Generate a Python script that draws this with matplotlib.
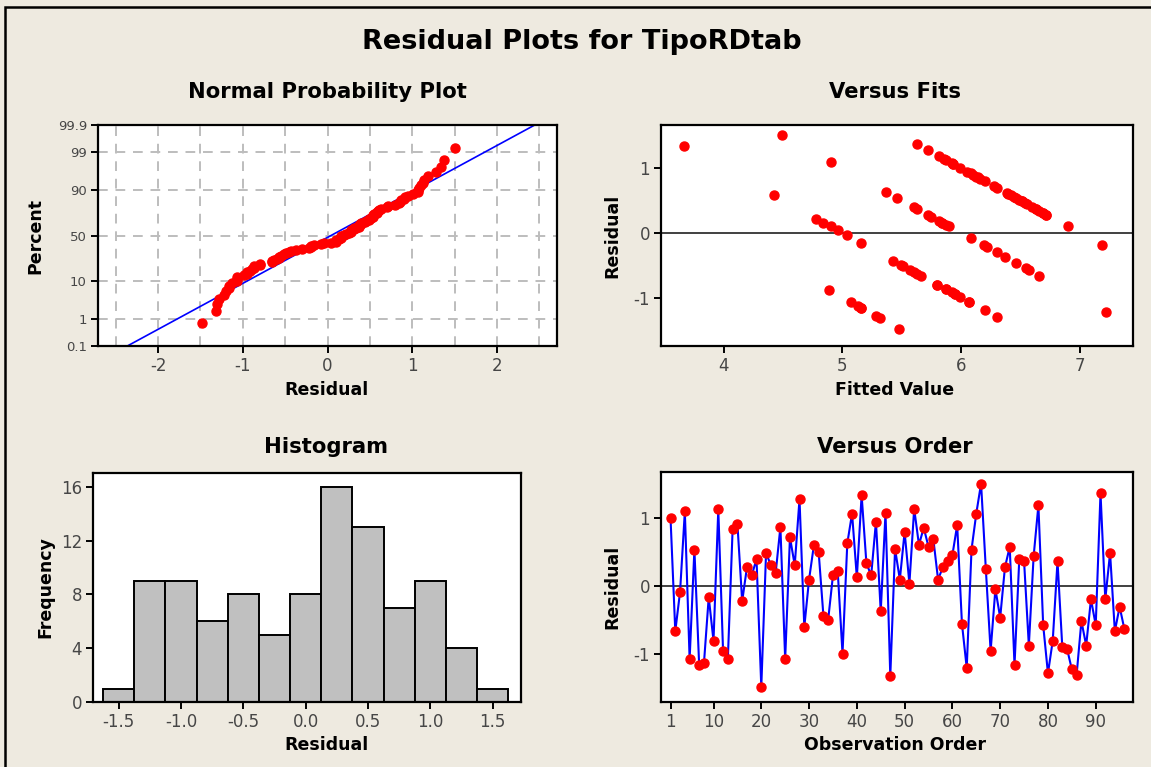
import matplotlib.pyplot as plt
import numpy as np
from statistics import NormalDist
from matplotlib.patches import Rectangle

# residuals in observation order
order_resid = [1.01, -0.66, -0.08, 1.10, -1.07, 0.54, -1.16, -1.13, -0.16, -0.80,
               1.13, -0.95, -1.07, 0.84, 0.92, -0.22, 0.28, 0.16, 0.40, -1.48,
               0.49, 0.31, 0.19, 0.87, -1.07, 0.72, 0.31, 1.28, -0.60, 0.10,
               0.60, 0.51, -0.43, -0.49, 0.16, 0.22, -0.99, 0.63, 1.07, 0.13,
               1.34, 0.34, 0.16, 0.95, -0.37, 1.08, -1.32, 0.55, 0.10, 0.80,
               0.04, 1.14, 0.61, 0.86, 0.58, 0.70, 0.10, 0.28, 0.37, 0.46,
               0.90, -0.55, -1.20, 0.54, 1.07, 1.51, 0.25, -0.95, -0.04, -0.46,
               0.28, 0.58, -1.16, 0.40, 0.37, -0.87, 0.44, 1.19, -0.57, -1.28,
               -0.80, 0.37, -0.89, -0.92, -1.22, -1.30, -0.51, -0.87, -0.19, -0.57,
               1.37, -0.19, 0.49, -0.66, -0.30, -0.63]

# fitted values, same observation order
fitted = [5.99, 6.66, 6.08, 4.90, 6.07, 6.46, 5.16, 5.13, 5.16, 5.80,
          5.87, 5.95, 5.07, 6.16, 6.08, 6.22, 6.72, 5.84, 5.60, 5.48,
          6.51, 6.69, 5.81, 6.13, 6.07, 6.28, 6.69, 5.72, 5.60, 4.90,
          6.40, 6.49, 5.43, 5.49, 5.84, 4.78, 5.99, 5.37, 5.93, 5.87,
          3.66, 6.66, 4.84, 6.05, 6.37, 5.92, 5.32, 6.45, 5.90, 6.20,
          4.96, 5.86, 6.39, 6.14, 4.42, 6.30, 6.90, 5.72, 6.63, 6.54,
          6.10, 6.55, 6.20, 5.46, 5.93, 4.49, 5.75, 5.95, 5.04, 6.46,
          6.72, 6.42, 5.16, 6.60, 5.63, 5.87, 6.56, 5.81, 5.57, 5.28,
          5.80, 6.63, 4.89, 5.92, 7.22, 6.30, 5.51, 5.87, 7.19, 6.57,
          5.63, 6.19, 6.51, 5.66, 6.30, 5.63]

hist_centers = [-1.5, -1.25, -1.0, -0.75, -0.5, -0.25, 0.0, 0.25, 0.5, 0.75, 1.0, 1.25, 1.5]
hist_counts = [1, 9, 9, 6, 8, 5, 8, 16, 13, 7, 9, 4, 1]

pct_ticks = [0.1, 1, 10, 50, 90, 99, 99.9]
pct_labels = ["0.1", "1", "10", "50", "90", "99", "99.9"]

W, H = 1151, 767
bg = "#EEEAE0"
dot = "#FF0000"
tick_col = "#464646"

plt.rcParams["font.family"] = ["DejaVu Sans"]
plt.rcParams["axes.unicode_minus"] = False

fig = plt.figure(figsize=(W / 100, H / 100), dpi=100, facecolor=bg)


def box(x0, y0, x1, y1):
    return [x0 / W, 1 - y1 / H, (x1 - x0) / W, (y1 - y0) / H]


def style(ax, size=12):
    for s in ax.spines.values():
        s.set_linewidth(1.6)
        s.set_color("black")
    ax.tick_params(direction="out", length=5, width=1.4, color="black",
                   labelcolor=tick_col, labelsize=size, pad=3)


def ftext(x, y, s, size, **kw):
    fig.text(x / W, 1 - y / H, s, fontsize=size, ha="center", va="center", **kw)


# frame of the whole graph window
fig.patches.append(Rectangle((5 / W, -0.1), 1.2, 1 - 7 / H + 0.1, transform=fig.transFigure,
                             fill=False, edgecolor="black", linewidth=1.8))

ftext(582, 42, "Residual Plots for TipoRDtab", 19.5, fontweight="bold")

# --- Normal probability plot
nd = NormalDist()
res = np.array(order_resid)
n = len(res)
srt = np.sort(res)
z_pts = [nd.inv_cdf((i + 1 - 0.3) / (n + 0.4)) for i in range(n)]
mu, sd = res.mean(), res.std(ddof=1)
z_lo, z_hi = nd.inv_cdf(0.001), nd.inv_cdf(0.999)

ax1 = fig.add_axes(box(98, 125, 557, 346))
style(ax1)
for gx in np.arange(-2.5, 2.51, 0.5):
    ax1.axvline(gx, color="#BDBDBD", linestyle=(0, (5, 4)), linewidth=1.4, zorder=0)
for p in pct_ticks[1:-1]:
    ax1.axhline(nd.inv_cdf(p / 100), color="#BDBDBD", linestyle=(0, (5, 4)), linewidth=1.4, zorder=0)
ax1.plot([mu + sd * z_lo, mu + sd * z_hi], [z_lo, z_hi], color="#0000FF", linewidth=1.2, zorder=2)
ax1.plot(srt, z_pts, "o", color=dot, markersize=6.5, zorder=3)
ax1.set_xlim(-2.71, 2.71)
ax1.set_ylim(z_lo, z_hi)
ax1.set_xticks([-2, -1, 0, 1, 2])
ax1.set_yticks([nd.inv_cdf(p / 100) for p in pct_ticks])
ax1.set_yticklabels(pct_labels)
ax1.tick_params(axis="y", labelsize=9.5)
ftext(327, 92, "Normal Probability Plot", 15.2, fontweight="bold")
ftext(327, 390, "Residual", 12.5, fontweight="bold")
ftext(35, 236, "Percent", 12.5, fontweight="bold", rotation=90)

# --- Versus fits
ax2 = fig.add_axes(box(661, 125, 1133, 346))
style(ax2)
ax2.axhline(0, color="#404040", linewidth=1.4, zorder=1)
ax2.plot(fitted, order_resid, "o", color=dot, markersize=6.5, zorder=3)
ax2.set_xlim(3.47, 7.45)
ax2.set_ylim(-1.75, 1.67)
ax2.set_xticks([4, 5, 6, 7])
ax2.set_yticks([-1, 0, 1])
ftext(895, 92, "Versus Fits", 15.2, fontweight="bold")
ftext(895, 390, "Fitted Value", 12.5, fontweight="bold")
ftext(612, 236, "Residual", 12.5, fontweight="bold", rotation=90)

# --- Histogram
ax3 = fig.add_axes(box(93, 473, 521, 702))
style(ax3)
ax3.bar(hist_centers, hist_counts, width=0.25, color="#C0C0C0", edgecolor="black", linewidth=1.4)
ax3.set_xlim(-1.705, 1.727)
ax3.set_ylim(0, 17.04)
ax3.set_xticks([-1.5, -1.0, -0.5, 0.0, 0.5, 1.0, 1.5])
ax3.set_xticklabels(["-1.5", "-1.0", "-0.5", "0.0", "0.5", "1.0", "1.5"])
ax3.set_yticks([0, 4, 8, 12, 16])
ftext(326, 447, "Histogram", 15.2, fontweight="bold")
ftext(326, 745, "Residual", 12.5, fontweight="bold")
ftext(45, 587, "Frequency", 12.5, fontweight="bold", rotation=90)

# --- Versus order
obs = np.arange(1, n + 1)
ax4 = fig.add_axes(box(661, 472, 1133, 702))
style(ax4)
ax4.axhline(0, color="#404040", linewidth=1.4, zorder=1)
ax4.plot(obs, order_resid, "-", color="#0000FF", linewidth=1.5, zorder=2)
ax4.plot(obs, order_resid, "o", color=dot, markersize=6.5, zorder=3)
ax4.set_xlim(-0.99, 97.8)
ax4.set_ylim(-1.70, 1.68)
ax4.set_xticks([1, 10, 20, 30, 40, 50, 60, 70, 80, 90])
ax4.set_yticks([-1, 0, 1])
ftext(895, 447, "Versus Order", 15.2, fontweight="bold")
ftext(895, 745, "Observation Order", 12.5, fontweight="bold")
ftext(612, 587, "Residual", 12.5, fontweight="bold", rotation=90)

fig.savefig("out.png", dpi=100, facecolor=bg)
